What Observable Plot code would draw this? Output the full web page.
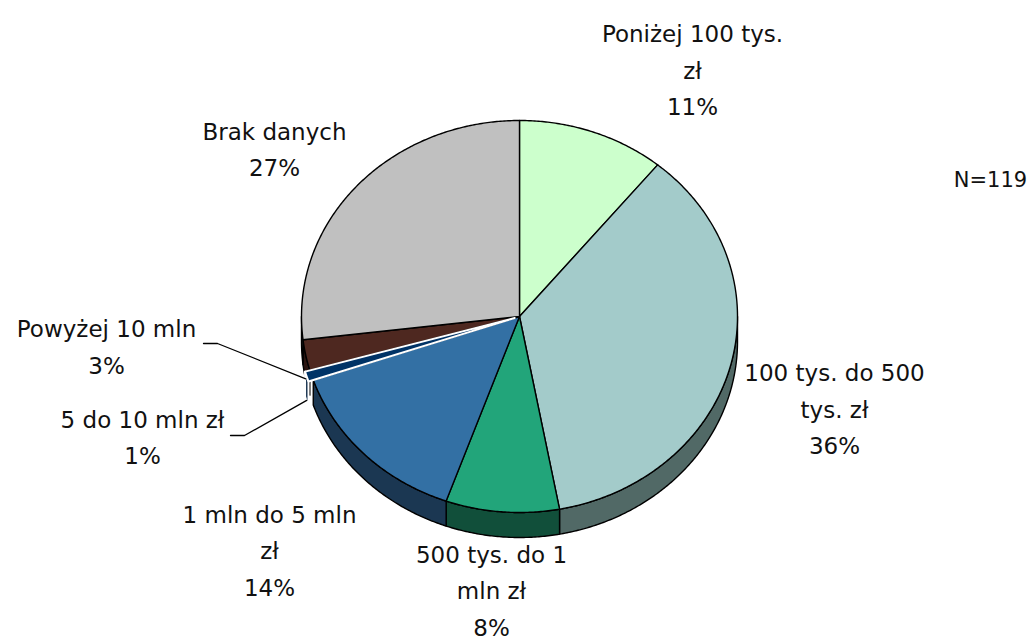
<!DOCTYPE html>
<html>
<head>
<meta charset="utf-8">
<script src="https://cdn.jsdelivr.net/npm/d3@7"></script>
<script src="https://cdn.jsdelivr.net/npm/@observablehq/plot@0.6"></script>
<style>
  html, body { margin: 0; padding: 0; background: #ffffff; overflow: hidden; }
  #chart svg { display: block; }
</style>
</head>
<body>
<div id="chart"></div>
<script>
// ---------------- data ----------------
const categories = [
  "Poniżej 100 tys.\nzł",
  "100 tys. do 500\ntys. zł",
  "500 tys. do 1\nmln zł",
  "1 mln do 5 mln\nzł",
  "5 do 10 mln zł",
  "Powyżej 10 mln",
  "Brak danych"
];
const counts = [13, 43, 10, 17, 1, 3, 32];   // N = 119
const totalLabel = "N=119";

// ---------------- styles ----------------
const topColors  = ["#CCFFCC", "#A3CBCA", "#22A57A", "#3370A4", "#003366", "#4E2820", "#C0C0C0"];
const sideColors = ["#66806A", "#516966", "#114F3A", "#1B3752", "#17324F", "#2A1410", "#606060"];

// ---------------- layout ----------------
const W = 1030, H = 643, CX = 519, CY = 316;
const RX = 218, RY = 196, DEPTH = 25;
const explode = [0, 0, 0, 0, 5, 0, 0];
// label block centres, relative to the pie centre (manual placement as in the original)
const labelAt = [[173, -249.5], [315, 89.5], [-28, 271], [-250, 231], [-377, 118], [-413, 27.5], [-245, -170]];
// start of leader lines (label side), null = no leader
const leaderFrom = [null, null, null, null, [-289, 119], [-316, 27], null];
const totalAt = [471, -136];

// ---------------- geometry ----------------
const total = d3.sum(counts);
const arcs = d3.pie().sort(null).value(d => d)(counts);

function arcPts(a0, a1, ox, oy, dy) {
  const n = Math.max(2, Math.ceil((a1 - a0) / (Math.PI / 360)));
  const pts = [];
  for (let i = 0; i <= n; i++) {
    const a = a0 + (a1 - a0) * i / n;
    pts.push([ox + RX * Math.sin(a), oy - RY * Math.cos(a) + dy]);
  }
  return pts;
}

function buildRows(which) {
  const sides = [], tops = [];
  arcs.forEach((arc, i) => {
    const mid = (arc.startAngle + arc.endAngle) / 2;
    const ox = explode[i] * Math.sin(mid), oy = -explode[i] * Math.cos(mid);
    if (which(i)) {
      const lo = Math.max(arc.startAngle, Math.PI / 2);
      const hi = Math.min(arc.endAngle, 3 * Math.PI / 2);
      if (hi > lo) {
        const poly = arcPts(lo, hi, ox, oy, 0).concat(arcPts(lo, hi, ox, oy, DEPTH).reverse());
        poly.push(poly[0]);
        poly.forEach(([x, y]) => sides.push({id: "s" + i, x, y, fill: sideColors[i]}));
      }
      const top = [[ox, oy]].concat(arcPts(arc.startAngle, arc.endAngle, ox, oy, 0));
      top.push([ox, oy]);
      top.forEach(([x, y]) => tops.push({id: "t" + i, x, y, fill: topColors[i]}));
    }
  });
  return {sides, tops};
}

const main = buildRows(i => explode[i] === 0);
const expl = buildRows(i => explode[i] !== 0);

const labels = categories.map((c, i) => ({
  x: labelAt[i][0], y: labelAt[i][1],
  text: c + "\n" + Math.round(counts[i] / total * 100) + "%"
}));

const leaders = [];
arcs.forEach((arc, i) => {
  if (!leaderFrom[i]) return;
  const mid = (arc.startAngle + arc.endAngle) / 2;
  const ox = explode[i] * Math.sin(mid), oy = -explode[i] * Math.cos(mid);
  const [lx, ly] = leaderFrom[i];
  leaders.push({id: i, x: lx, y: ly});
  leaders.push({id: i, x: lx + 14, y: ly});
  leaders.push({id: i, x: ox + RX * Math.sin(mid), y: oy - RY * Math.cos(mid) + DEPTH * 0.95});
});

const font = "'DejaVu Sans', Verdana, sans-serif";

const chart = Plot.plot({
  width: W,
  height: H,
  margin: 0,
  x: {domain: [-CX, W - CX], range: [0, W], axis: null},
  y: {domain: [-CY, H - CY], range: [0, H], axis: null},
  color: {type: "identity"},
  style: {background: "#ffffff", overflow: "visible"},
  marks: [
    Plot.line(main.sides, {x: "x", y: "y", z: "id", fill: "fill", stroke: "#000000", strokeWidth: 1.4, strokeLinejoin: "round"}),
    Plot.line(main.tops,  {x: "x", y: "y", z: "id", fill: "fill", stroke: "#000000", strokeWidth: 1.4, strokeLinejoin: "round"}),
    Plot.line(expl.sides, {x: "x", y: "y", z: "id", fill: "fill", stroke: "#ffffff", strokeWidth: 2, strokeLinejoin: "round"}),
    Plot.line(expl.tops,  {x: "x", y: "y", z: "id", fill: "fill", stroke: "#ffffff", strokeWidth: 2, strokeLinejoin: "round"}),
    Plot.line(leaders, {x: "x", y: "y", z: "id", stroke: "#000000", strokeWidth: 1.3}),
    Plot.text(labels, {x: "x", y: "y", text: "text", fontSize: 23, lineHeight: 1.59, fontFamily: font, fill: "#111111"}),
    Plot.text([{x: totalAt[0], y: totalAt[1], text: totalLabel}], {x: "x", y: "y", text: "text", fontSize: 21, fontFamily: font, fill: "#111111", textAnchor: "middle"})
  ]
});

document.getElementById("chart").appendChild(chart);
</script>
</body>
</html>
